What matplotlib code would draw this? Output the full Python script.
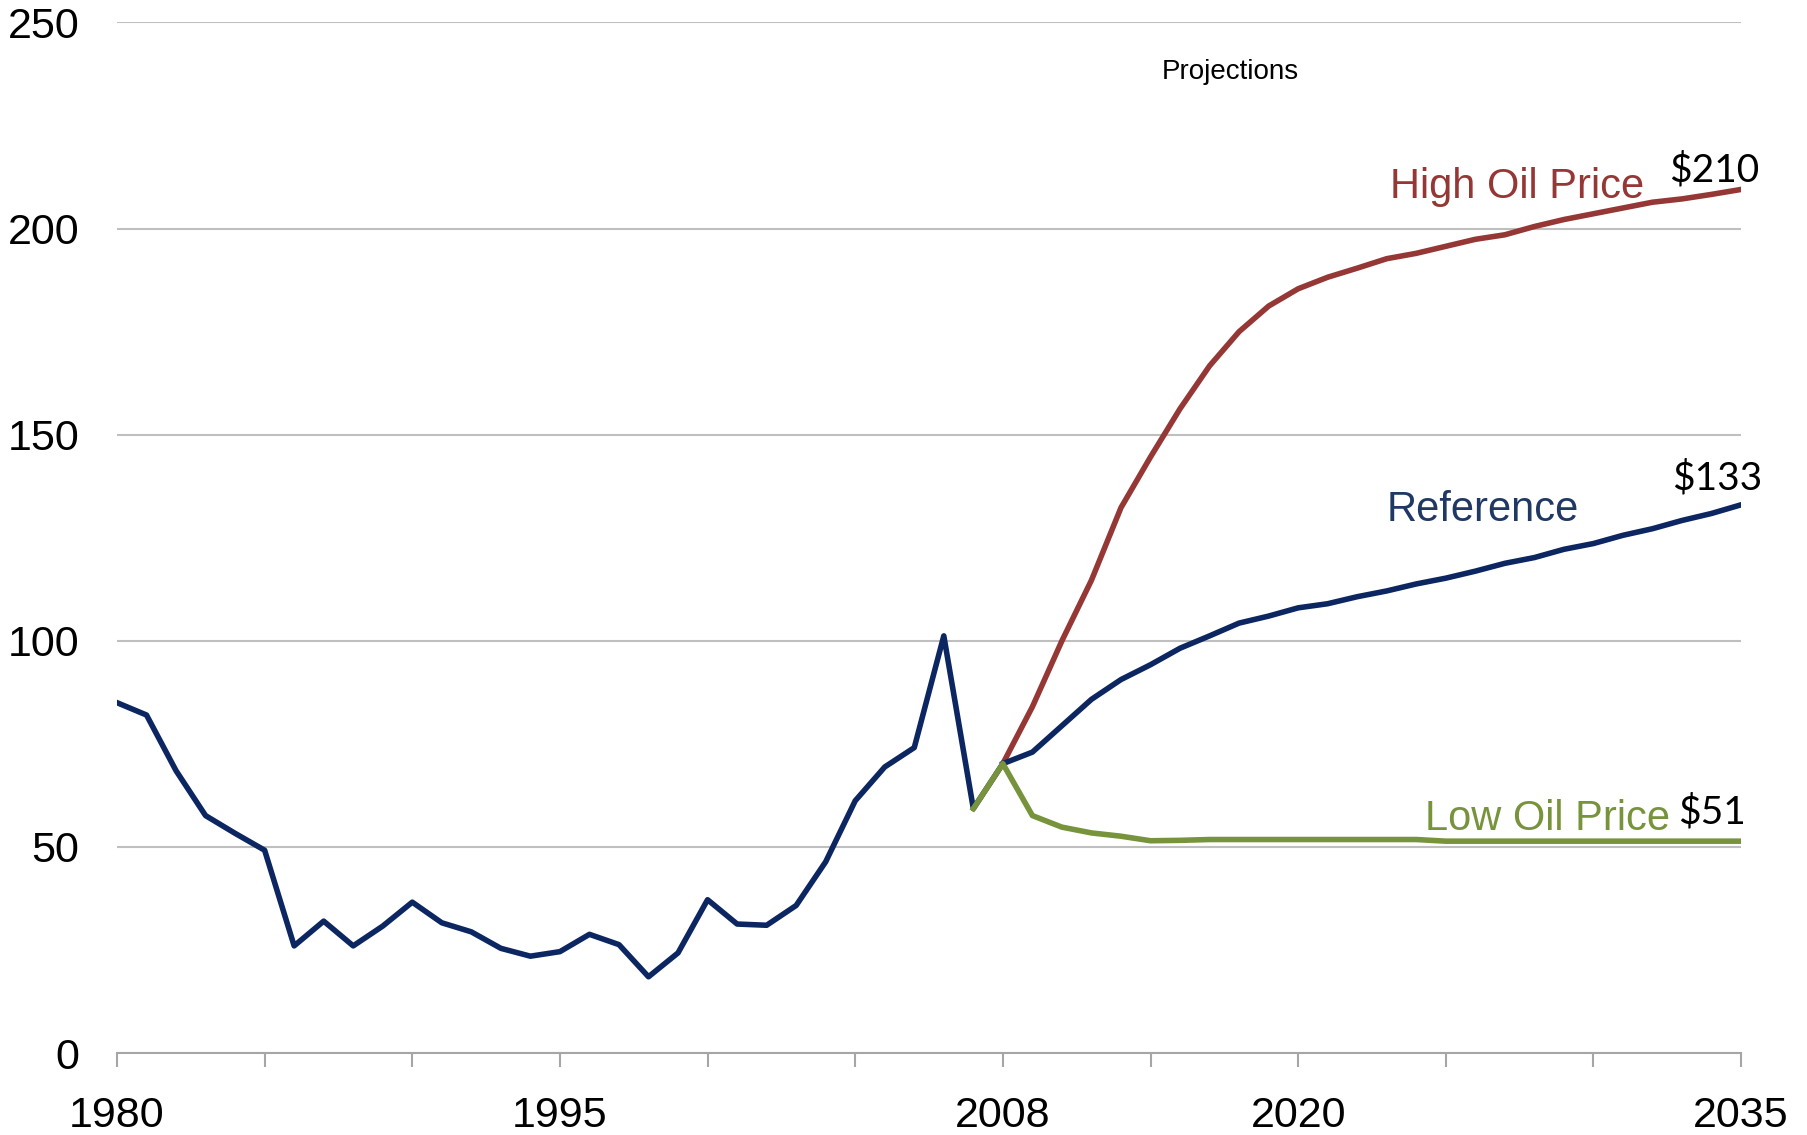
import matplotlib
matplotlib.use("Agg")
import matplotlib.pyplot as plt

plt.rcParams['font.family'] = ['Liberation Sans', 'DejaVu Sans']

# history, 1980-2009 (2010 joins the projections)
hist_years = list(range(1980, 2011))
hist_price = [85.0, 82.0, 68.5, 57.6, 53.3, 49.2, 26.0, 32.0, 26.0, 30.8,
              36.6, 31.6, 29.4, 25.4, 23.5, 24.6, 28.8, 26.3, 18.5, 24.3,
              37.2, 31.3, 31.0, 35.8, 46.4, 61.2, 69.4, 74.1, 101.2, 59.3,
              70.2]

proj_years = list(range(2010, 2036))
reference = [70.2, 73.0, 79.4, 85.8, 90.6, 94.2, 98.2, 101.2, 104.3, 106.0,
             108.0, 109.0, 110.7, 112.1, 113.8, 115.2, 116.9, 118.8, 120.2, 122.2,
             123.6, 125.6, 127.2, 129.2, 130.9, 133.0]
high_price = [70.2, 84.0, 100.0, 114.7, 132.3, 144.6, 156.3, 166.7, 175.0, 181.2,
              185.4, 188.2, 190.4, 192.7, 194.0, 195.7, 197.4, 198.5, 200.5, 202.2,
              203.6, 205.0, 206.4, 207.2, 208.3, 209.5]

low_years = list(range(2009, 2036))
low_price = [59.3, 70.2, 57.6, 54.8, 53.4, 52.6, 51.5, 51.6, 51.8, 51.8,
             51.8, 51.8, 51.8, 51.8, 51.8, 51.8, 51.4, 51.4, 51.4, 51.4,
             51.4, 51.4, 51.4, 51.4, 51.4, 51.4, 51.4]

tick_years = list(range(1980, 2036, 5))
tick_labels = ["1980", "", "", "1995", "", "", "2008", "", "2020", "", "", "2035"]

navy = "#0c2661"
red = "#953735"
green = "#77933c"

fig = plt.figure(figsize=(18.08, 11.35), dpi=100)
ax = fig.add_axes([0.0647, 0.0722, 0.8983, 0.908])

ax.plot(hist_years, hist_price, color=navy, lw=4.0, solid_joinstyle='round')
ax.plot(proj_years, high_price, color=red, lw=4.0, solid_joinstyle='round')
ax.plot(proj_years, reference, color=navy, lw=4.0, solid_joinstyle='round')
ax.plot(low_years, low_price, color=green, lw=4.0, solid_joinstyle='round')

ax.set_xlim(1980, 2035)
ax.set_ylim(0, 250)
ax.set_yticks([0, 50, 100, 150, 200, 250])
ax.yaxis.grid(True, color="#bfbfbf", lw=1.5)
ax.set_axisbelow(True)
ax.tick_params(axis='y', length=0, pad=27, labelsize=31)
ax.set_xticks(tick_years)
ax.set_xticklabels(tick_labels)
ax.tick_params(axis='x', length=10, width=1.5, color="#a6a6a6", pad=21, labelsize=31)

for s in ["top", "right", "left"]:
    ax.spines[s].set_visible(False)
ax.spines["bottom"].set_color("#a6a6a6")
ax.spines["bottom"].set_linewidth(1.5)

ax.text(2017.7, 238, "Projections", fontsize=20, ha='center', va='center')

ax.text(2023.1, 207.5, "High Oil Price", color=red, fontsize=30, ha='left', va='baseline')
ax.text(2023.0, 129, "Reference", color="#1f3864", fontsize=30, ha='left', va='baseline')
ax.text(2024.3, 54.2, "Low Oil Price", color=green, fontsize=30, ha='left', va='baseline')

val_font = ['Lato', 'DejaVu Sans']
ax.text(2034.1, 211.4, "$210", fontsize=28, ha='center', va='baseline', family=val_font)
ax.text(2034.2, 136.7, "$133", fontsize=28, ha='center', va='baseline', family=val_font)
ax.text(2034.0, 55.8, "$51", fontsize=28, ha='center', va='baseline', family=val_font)

fig.savefig("out.png", dpi=100)
